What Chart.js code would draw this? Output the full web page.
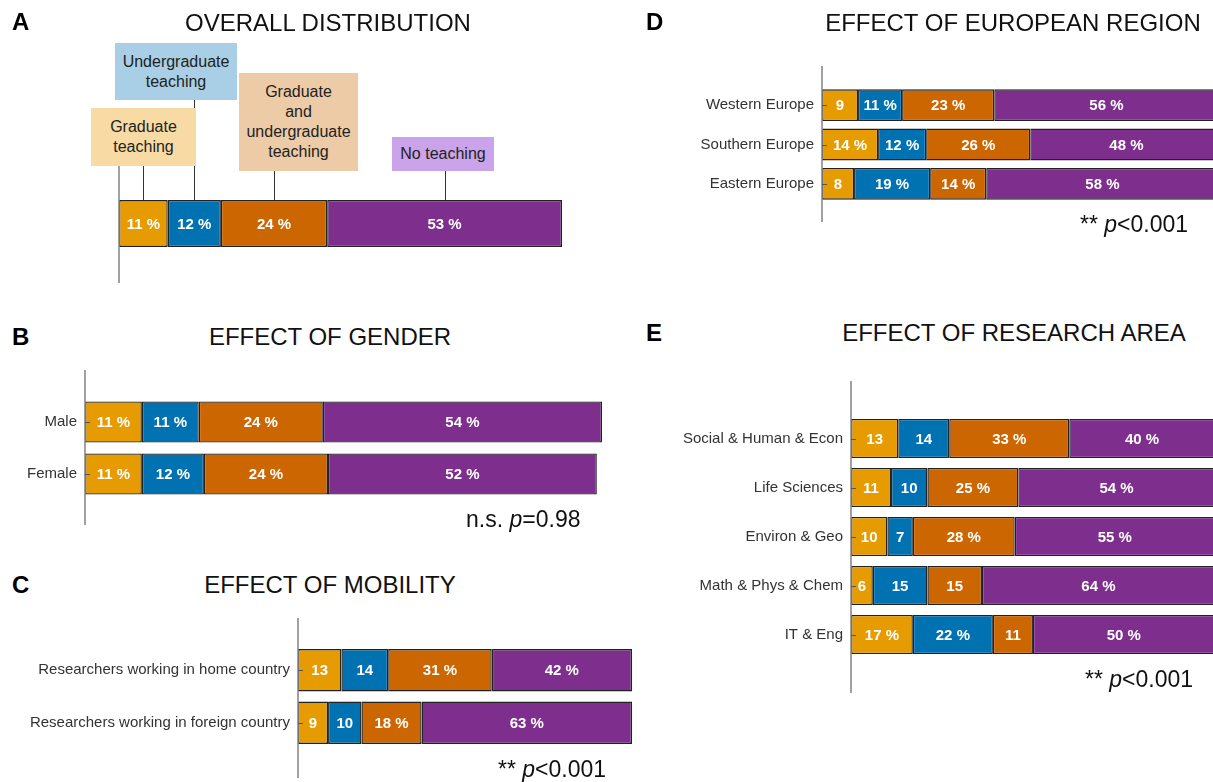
<!DOCTYPE html>
<html>
<head>
<meta charset="utf-8">
<script src="https://cdn.jsdelivr.net/npm/chart.js@4.4.1/dist/chart.umd.min.js"></script>
<style>
  html, body { margin: 0; padding: 0; background: #fff; }
  #page { position: relative; width: 1213px; height: 782px; overflow: hidden; background: #fff;
          font-family: "Liberation Sans", Arial, sans-serif; color: #111; }
  .panel { position: absolute; }
  .letter { position: absolute; font-size: 24px; font-weight: bold; line-height: 1; color: #000; }
  .title { position: absolute; width: 440px; text-align: center; font-size: 24px; line-height: 1; color: #111; white-space: nowrap; }
  .pval { position: absolute; font-size: 23px; line-height: 1; color: #111; white-space: nowrap; }
  .note { position: absolute; display: flex; align-items: center; justify-content: center; text-align: center;
          font-size: 16px; line-height: 20px; color: #222; }
</style>
</head>
<body>
<div id="page">
  <div class="panel" style="left:0;top:0;width:600px;height:290px"><canvas id="chartA"></canvas></div>
  <div class="panel" style="left:0;top:350px;width:620px;height:190px"><canvas id="chartB"></canvas></div>
  <div class="panel" style="left:0;top:600px;width:650px;height:182px"><canvas id="chartC"></canvas></div>
  <div class="panel" style="left:610px;top:40px;width:603px;height:200px"><canvas id="chartD"></canvas></div>
  <div class="panel" style="left:610px;top:370px;width:603px;height:330px"><canvas id="chartE"></canvas></div>

  <div class="note" style="left:91px;top:108px;width:105px;height:58px;background:#F8DBA4">Graduate<br>teaching</div>
  <div class="note" style="left:115px;top:43px;width:122px;height:57px;background:#A8CFE5">Undergraduate<br>teaching</div>
  <div class="note" style="left:239px;top:73px;width:119px;height:98px;background:#ECCBA6">Graduate<br>and<br>undergraduate<br>teaching</div>
  <div class="note" style="left:392px;top:137px;width:102px;height:34px;background:#CBA3EA">No teaching</div>

  <div class="letter" style="left:12px;top:10px">A</div>
  <div class="title" style="left:108px;top:11px">OVERALL DISTRIBUTION</div>
  <div class="letter" style="left:12px;top:325px">B</div>
  <div class="title" style="left:110px;top:325px">EFFECT OF GENDER</div>
  <div class="letter" style="left:12px;top:573px">C</div>
  <div class="title" style="left:110px;top:573px">EFFECT OF MOBILITY</div>
  <div class="letter" style="left:646px;top:10px">D</div>
  <div class="title" style="left:793px;top:11px">EFFECT OF EUROPEAN REGION</div>
  <div class="letter" style="left:646px;top:321px">E</div>
  <div class="title" style="left:794px;top:321px">EFFECT OF RESEARCH AREA</div>

  <div class="pval" style="left:466px;top:508px">n.s. <i>p</i>=0.98</div>
  <div class="pval" style="left:498px;top:758px">** <i>p</i>&lt;0.001</div>
  <div class="pval" style="left:1080px;top:213px">** <i>p</i>&lt;0.001</div>
  <div class="pval" style="left:1085px;top:668px">** <i>p</i>&lt;0.001</div>
</div>

<script>
// Teaching categories (stack order, left to right)
const SERIES = ['Graduate teaching', 'Undergraduate teaching', 'Graduate and undergraduate teaching', 'No teaching'];
const SERIES_COLORS = ['#E69B00', '#0072B2', '#CC6600', '#7E2F8E'];

// A: overall distribution (%)
const overallCats = ['All researchers'];
const overallGrad = [11];
const overallUnder = [12];
const overallBoth = [24];
const overallNone = [53];

// B: gender (%)
const genderCats = ['Male', 'Female'];
const genderGrad = [11, 11];
const genderUnder = [11, 12];
const genderBoth = [24, 24];
const genderNone = [54, 52];

// C: mobility (%)
const mobilityCats = ['Researchers working in home country', 'Researchers working in foreign country'];
const mobilityGrad = [13, 9];
const mobilityUnder = [14, 10];
const mobilityBoth = [31, 18];
const mobilityNone = [42, 63];

// D: European region (%)
const regionCats = ['Western Europe', 'Southern Europe', 'Eastern Europe'];
const regionGrad = [9, 14, 8];
const regionUnder = [11, 12, 19];
const regionBoth = [23, 26, 14];
const regionNone = [56, 48, 58];

// E: research area (%)
const areaCats = ['Social & Human & Econ', 'Life Sciences', 'Environ & Geo', 'Math & Phys & Chem', 'IT & Eng'];
const areaGrad = [13, 11, 10, 6, 17];
const areaUnder = [14, 10, 7, 15, 22];
const areaBoth = [33, 25, 28, 15, 11];
const areaNone = [40, 54, 55, 64, 50];

Chart.defaults.font.family = '"Liberation Sans", Arial, sans-serif';
Chart.defaults.color = '#333';

// Vertical axis line extended past the bars, with short inward ticks
const axisLine = {
  id: 'axisLine',
  afterDatasetsDraw(chart, args, opts) {
    const { ctx, chartArea } = chart;
    const x = chartArea.left;
    ctx.save();
    ctx.strokeStyle = '#8a8a8a';
    ctx.lineWidth = 1.6;
    ctx.beginPath();
    ctx.moveTo(x, chartArea.top - opts.above);
    ctx.lineTo(x, chartArea.bottom + opts.below);
    ctx.stroke();
    if (opts.ticks) {
      const ys = chart.scales.y;
      ctx.strokeStyle = '#555';
      ctx.lineWidth = 1;
      ctx.beginPath();
      ys.ticks.forEach((t, i) => {
        const y = Math.round(ys.getPixelForTick(i)) + 0.5;
        ctx.moveTo(x, y);
        ctx.lineTo(x + 5, y);
      });
      ctx.stroke();
    }
    ctx.restore();
  }
};

// White value labels centred on each segment
const segmentLabels = {
  id: 'segmentLabels',
  afterDatasetsDraw(chart, args, opts) {
    const { ctx } = chart;
    ctx.save();
    ctx.fillStyle = '#fff';
    ctx.font = 'bold 15px "Liberation Sans", Arial, sans-serif';
    ctx.textAlign = 'center';
    ctx.textBaseline = 'middle';
    chart.data.datasets.forEach((ds, di) => {
      const meta = chart.getDatasetMeta(di);
      meta.data.forEach((bar, i) => {
        const v = ds.data[i];
        const txt = v >= opts.percentFrom ? v + ' %' : String(v);
        ctx.fillText(txt, (bar.x + bar.base) / 2, bar.y + 1);
      });
    });
    ctx.restore();
  }
};

// Leader lines from the category notes down to each segment of panel A
const noteLines = {
  id: 'noteLines',
  afterDatasetsDraw(chart, args, opts) {
    const { ctx } = chart;
    ctx.save();
    ctx.strokeStyle = '#333';
    ctx.lineWidth = 1;
    ctx.beginPath();
    chart.data.datasets.forEach((ds, di) => {
      const bar = chart.getDatasetMeta(di).data[0];
      const x = Math.round((bar.x + bar.base) / 2) + 0.5;
      ctx.moveTo(x, opts.from[di]);
      ctx.lineTo(x, bar.y - bar.height / 2);
    });
    ctx.stroke();
    ctx.restore();
  }
};

function makeChart(id, cats, values, cfg) {
  const datasets = SERIES.map((name, k) => ({
    label: name,
    data: values[k],
    backgroundColor: SERIES_COLORS[k],
    borderColor: '#222',
    borderWidth: 1.4,
    borderSkipped: false,
    categoryPercentage: 1,
    barPercentage: cfg.barPct
  }));
  return new Chart(document.getElementById(id), {
    type: 'bar',
    data: { labels: cats, datasets },
    plugins: [axisLine, segmentLabels].concat(cfg.extra || []),
    options: {
      indexAxis: 'y',
      responsive: true,
      maintainAspectRatio: false,
      animation: false,
      devicePixelRatio: 1,
      events: [],
      layout: { padding: cfg.padding },
      scales: {
        x: { stacked: true, min: 0, max: cfg.max, display: false },
        y: {
          stacked: true,
          grid: { display: false, drawTicks: false },
          border: { display: false },
          ticks: { display: cfg.showTicks, padding: 8, color: '#333', font: { size: 15 } },
          afterFit(s) { s.width = cfg.axisWidth; }
        }
      },
      plugins: {
        legend: { display: false },
        tooltip: { enabled: false },
        title: { display: false },
        axisLine: { above: cfg.above, below: cfg.below, ticks: cfg.showTicks },
        segmentLabels: { percentFrom: cfg.percentFrom },
        noteLines: cfg.noteFrom ? { from: cfg.noteFrom } : {}
      }
    }
  });
}

makeChart('chartA', overallCats, [overallGrad, overallUnder, overallBoth, overallNone], {
  axisWidth: 119, padding: { top: 195, bottom: 38, right: 38, left: 0 },
  max: 100, barPct: 0.825, above: 30, below: 31, showTicks: false, percentFrom: 0,
  extra: [noteLines], noteFrom: [166, 100, 171, 171]
});

makeChart('chartB', genderCats, [genderGrad, genderUnder, genderBoth, genderNone], {
  axisWidth: 85, padding: { top: 46, bottom: 40, right: 18, left: 0 },
  max: 100, barPct: 0.79, above: 26, below: 25, showTicks: true, percentFrom: 0
});

makeChart('chartC', mobilityCats, [mobilityGrad, mobilityUnder, mobilityBoth, mobilityNone], {
  axisWidth: 298, padding: { top: 44, bottom: 33, right: 18, left: 0 },
  max: 100, barPct: 0.81, above: 26, below: 29, showTicks: true, percentFrom: 15
});

makeChart('chartD', regionCats, [regionGrad, regionUnder, regionBoth, regionNone], {
  axisWidth: 212, padding: { top: 45.5, bottom: 36.5, right: 0, left: 0 },
  max: 97.6, barPct: 0.81, above: 19.5, below: 18.5, showTicks: true, percentFrom: 10
});

makeChart('chartE', areaCats, [areaGrad, areaUnder, areaBoth, areaNone], {
  axisWidth: 241, padding: { top: 44, bottom: 41, right: 0, left: 0 },
  max: 99.5, barPct: 0.8, above: 33, below: 34, showTicks: true, percentFrom: 16
});
</script>
</body>
</html>
